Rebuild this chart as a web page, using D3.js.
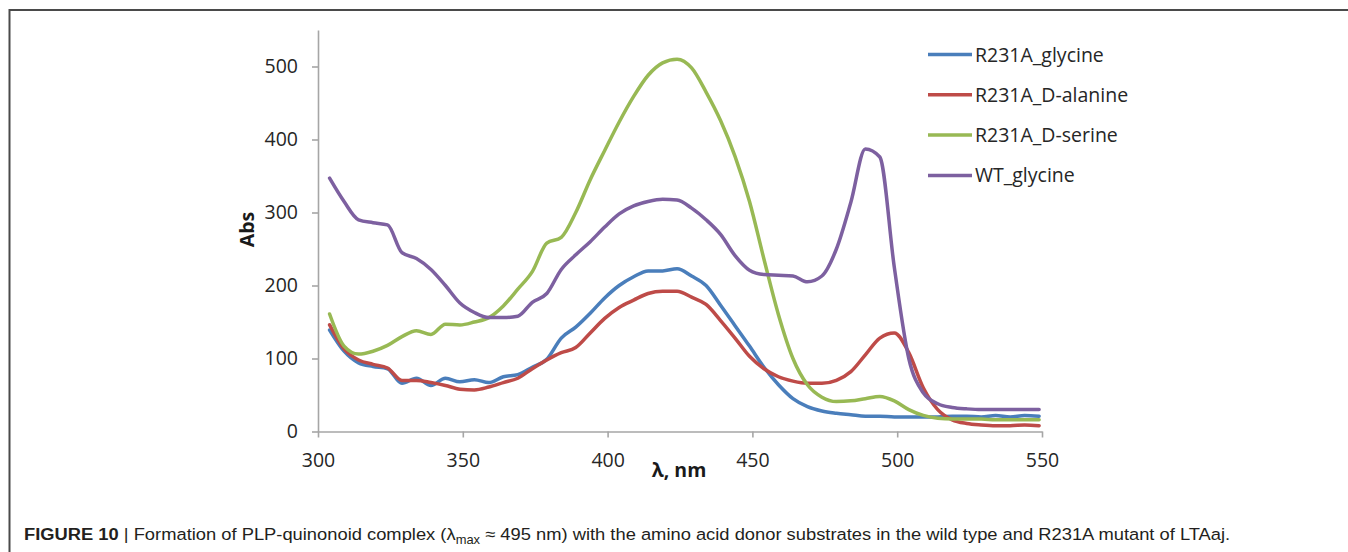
<!DOCTYPE html>
<html>
<head>
<meta charset="utf-8">
<script src="https://cdn.jsdelivr.net/npm/d3@7/dist/d3.min.js"></script>
<style>
  html, body { margin: 0; padding: 0; background: #fff; }
  svg { display: block; }
</style>
</head>
<body>
<svg id="chart" width="1348" height="552"></svg>
<script>
// ── Data ────────────────────────────────────────────────────

const wavelengths = [304, 309, 314, 319, 324, 329, 334, 339, 344, 349,
                     354, 359, 364, 369, 374, 379, 384, 389, 394, 399,
                     404, 409, 414, 419, 424, 429, 434, 439, 444, 449,
                     454, 459, 464, 469, 474, 479, 484, 489, 494, 499,
                     504, 509, 514, 519, 524, 529, 534, 539, 544, 549];

const r231aGlycine = [139, 110, 94, 89, 86, 66, 73, 63, 73, 68,
                      71, 67, 75, 78, 88, 99, 128, 143, 162, 183,
                      200, 212, 220, 220, 223, 213, 200, 173, 145, 117,
                      88, 64, 45, 34, 28, 25, 23, 21, 21, 20,
                      20, 20, 20, 21, 21, 20, 22, 20, 22, 21];

const r231aAlanine = [146, 113, 98, 92, 87, 70, 70, 67, 63, 58,
                      57, 61, 67, 73, 86, 98, 108, 115, 135, 155,
                      170, 180, 189, 192, 192, 184, 174, 152, 128, 103,
                      86, 75, 69, 66, 66, 70, 82, 105, 128, 135,
                      108, 60, 30, 16, 11, 9, 8, 8, 9, 8];

const r231aSerine = [161, 117, 106, 110, 118, 130, 138, 133, 147, 146,
                     150, 156, 172, 195, 219, 258, 266, 300, 345, 385,
                     424, 459, 488, 505, 510, 498, 465, 426, 377, 315,
                     236, 160, 100, 64, 47, 41, 42, 45, 48, 42,
                     30, 22, 18, 17, 17, 17, 16, 16, 16, 16];

const wtGlycine = [347, 315, 290, 286, 283, 245, 237, 222, 200, 176,
                   163, 156, 156, 158, 177, 189, 222, 242, 260, 280,
                   298, 309, 315, 318, 317, 306, 290, 270, 241, 221,
                   215, 214, 213, 205, 213, 250, 314, 387, 376, 225,
                   100, 53, 38, 33, 31, 30, 30, 30, 30, 30];

const seriesNames  = ['R231A_glycine', 'R231A_D-alanine', 'R231A_D-serine', 'WT_glycine'];
const seriesValues = [r231aGlycine, r231aAlanine, r231aSerine, wtGlycine];
const seriesColors = ['#4a7ebb', '#be4b48', '#98b954', '#7d60a0'];

const xTicks = [300, 350, 400, 450, 500, 550];
const yTicks = [0, 100, 200, 300, 400, 500];

// ── Setup ───────────────────────────────────────────────────

const FONT = "'Open Sans', 'DejaVu Sans', sans-serif";
const svg = d3.select('#chart');

const x = d3.scaleLinear().domain([300, 550]).range([318, 1042]);
const y = d3.scaleLinear().domain([0, 550]).range([431.5, 30]);

// outer frame (top + left rule)
svg.append('path')
  .attr('d', 'M9.5,552V10H1348')
  .attr('fill', 'none')
  .attr('stroke', '#4a4a4a')
  .attr('stroke-width', 2);

// ── Axes ────────────────────────────────────────────────────

const xAxis = svg.append('g')
  .attr('transform', `translate(0,${y(0)})`)
  .call(d3.axisBottom(x).tickValues(xTicks).tickSize(6).tickSizeOuter(0).tickPadding(16));

const yAxis = svg.append('g')
  .attr('transform', `translate(${x(300)},0)`)
  .call(d3.axisLeft(y).tickValues(yTicks).tickSize(6).tickSizeOuter(0).tickPadding(14));

[xAxis, yAxis].forEach(g => {
  g.selectAll('path, line').attr('stroke', '#a6a6a6').attr('stroke-width', 1.6);
  g.selectAll('text')
    .attr('font-family', FONT)
    .attr('font-size', 19.5)
    .attr('fill', '#262626');
});

svg.append('text')
  .attr('transform', 'translate(254,229.5) rotate(-90)')
  .attr('text-anchor', 'middle')
  .attr('font-family', FONT)
  .attr('font-size', 19.5)
  .attr('font-weight', 700)
  .attr('fill', '#1a1a1a')
  .text('Abs');

svg.append('text')
  .attr('x', 679)
  .attr('y', 477)
  .attr('text-anchor', 'middle')
  .attr('font-family', FONT)
  .attr('font-size', 19.5)
  .attr('font-weight', 700)
  .attr('fill', '#1a1a1a')
  .text('λ, nm');

// ── Curves ──────────────────────────────────────────────────

const line = d3.line()
  .x((d, i) => x(wavelengths[i]))
  .y(d => y(d))
  .curve(d3.curveMonotoneX);

svg.append('g')
  .selectAll('path')
  .data(seriesValues)
  .join('path')
  .attr('d', line)
  .attr('fill', 'none')
  .attr('stroke', (d, i) => seriesColors[i])
  .attr('stroke-width', 3.5)
  .attr('stroke-linejoin', 'round')
  .attr('stroke-linecap', 'round');

// ── Legend ──────────────────────────────────────────────────

const legend = svg.append('g')
  .selectAll('g')
  .data(seriesNames)
  .join('g')
  .attr('transform', (d, i) => `translate(928,${54.5 + i * 40.3})`);

legend.append('line')
  .attr('x1', 0).attr('x2', 44)
  .attr('stroke', (d, i) => seriesColors[i])
  .attr('stroke-width', 3.5);

legend.append('text')
  .attr('x', 47)
  .attr('y', 7)
  .attr('font-family', FONT)
  .attr('font-size', 19.5)
  .attr('fill', '#262626')
  .text(d => d);

// ── Caption ─────────────────────────────────────────────────

const caption = svg.append('text')
  .attr('font-family', "'Liberation Sans', Arial, sans-serif")
  .attr('font-size', 17)
  .attr('fill', '#231f20');

caption.append('tspan').attr('font-weight', 700).text('FIGURE 10');
caption.append('tspan').text(' | Formation of PLP-quinonoid complex (λ');
caption.append('tspan').attr('font-size', 12).attr('dy', 4).text('max');
caption.append('tspan').attr('dy', -4)
  .text(' ≈ 495 nm) with the amino acid donor substrates in the wild type and R231A mutant of LTAaj.');

// squeeze to the condensed width of the original caption
const capWidth = caption.node().getBBox().width;
caption.attr('transform', `translate(24,540) scale(${1207 / capWidth},1)`);
</script>
</body>
</html>
